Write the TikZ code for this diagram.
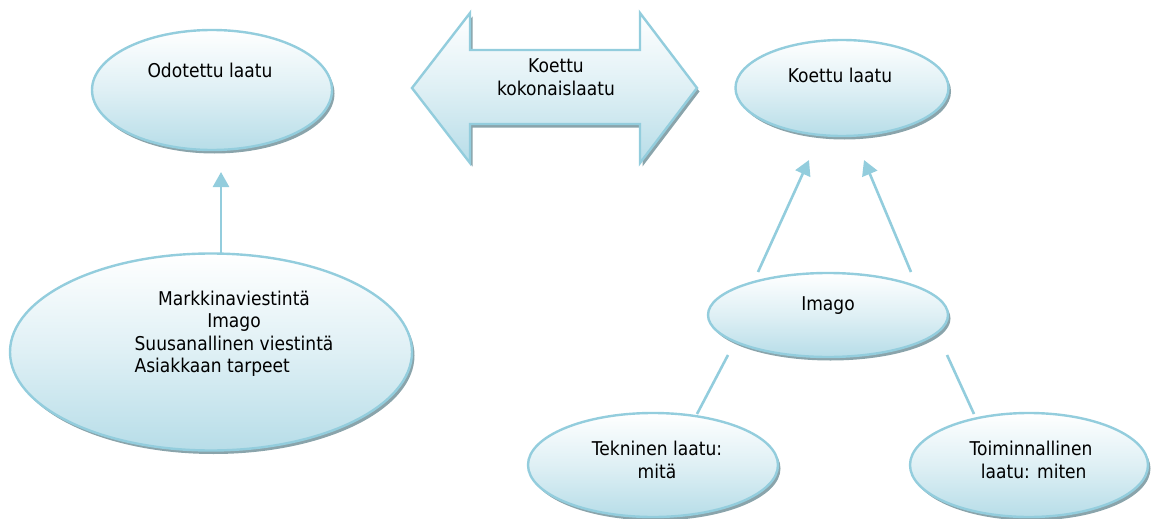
\documentclass[tikz,border=0pt]{standalone}
\usepackage{fontspec}
\setmainfont{DejaVu Sans}[FakeStretch=0.9]
\usetikzlibrary{shapes.geometric,shadows,arrows.meta}
\definecolor{rim}{HTML}{93CDDD}
\definecolor{fillbot}{HTML}{B7DDE8}
\definecolor{shadowgray}{HTML}{8AA4AB}
\tikzset{
  bubble/.style={ellipse, draw=rim, line width=2.4pt, inner sep=0pt,
    top color=white, bottom color=fillbot, middle color=fillbot!45,
    drop shadow={shadow xshift=2.5pt, shadow yshift=-3.5pt, fill=shadowgray, opacity=1}},
  txt/.style={font=\fontsize{19}{22.5}\selectfont, align=center, text=black, inner sep=0pt},
  conn/.style={draw=rim, line width=2.6pt},
  tip/.style={-{Triangle[width=16pt,length=15pt]}}
}
\begin{document}
\begin{tikzpicture}[x=1pt,y=-1pt]
\useasboundingbox (0,0) rectangle (1152,519);

% ellipses
\node[bubble, minimum width=240pt, minimum height=120pt,
  label={[txt, yshift=20pt, xshift=-2pt]center:Odotettu laatu}] (odot) at (212,90) {};
\node[bubble, minimum width=213pt, minimum height=96pt,
  label={[txt, yshift=13pt, xshift=-2pt]center:Koettu laatu}] (koettu) at (842,88) {};
\node[bubble, minimum width=402pt, minimum height=197pt,
  label={[txt, yshift=18pt, xshift=23pt]center:{Markkinaviestintä\\Imago\\Suusanallinen viestintä\\\rlap{Asiakkaan tarpeet}\phantom{Suusanallinen viestintä}}}] (big) at (211,352) {};
\node[bubble, minimum width=240pt, minimum height=84pt,
  label={[txt, yshift=9pt]center:Imago}] (imago) at (828,315) {};
\node[bubble, minimum width=250pt, minimum height=104pt,
  label={[txt, yshift=5pt, xshift=4pt]center:{Tekninen laatu:\\mitä}}] (tek) at (653,465) {};
\node[bubble, minimum width=238pt, minimum height=104pt,
  label={[txt, yshift=5pt, xshift=2pt]center:{Toiminnallinen\\\ laatu: miten}}] (toim) at (1029,465) {};

% double arrow with its caption
\path[draw=rim, line width=2.4pt, line join=miter,
  top color=white, bottom color=fillbot, middle color=fillbot!45,
  drop shadow={shadow xshift=2.5pt, shadow yshift=-3.5pt, fill=shadowgray, opacity=1}]
  (412,88) -- (470,13) -- (470,50) -- (640,50) -- (640,13) -- (697,88)
  -- (640,163) -- (640,124) -- (470,124) -- (470,163) -- cycle;
\node[txt] (koko) at (556,77) {Koettu\\kokonaislaatu};

% connectors
\draw[conn, tip] ([shift={(10,-99)}]big.center) -- ([shift={(9,82)}]odot.center);
\draw[conn, tip] ([shift={(-70,-43)}]imago.center) -- ([shift={(-33,72)}]koettu.center);
\draw[conn, tip] ([shift={(83,-43)}]imago.center) -- ([shift={(22,72)}]koettu.center);
\draw[conn] ([shift={(44,-51)}]tek.center) -- ([shift={(-100,40)}]imago.center);
\draw[conn] ([shift={(-55,-51)}]toim.center) -- ([shift={(119,40)}]imago.center);
\end{tikzpicture}
\end{document}
